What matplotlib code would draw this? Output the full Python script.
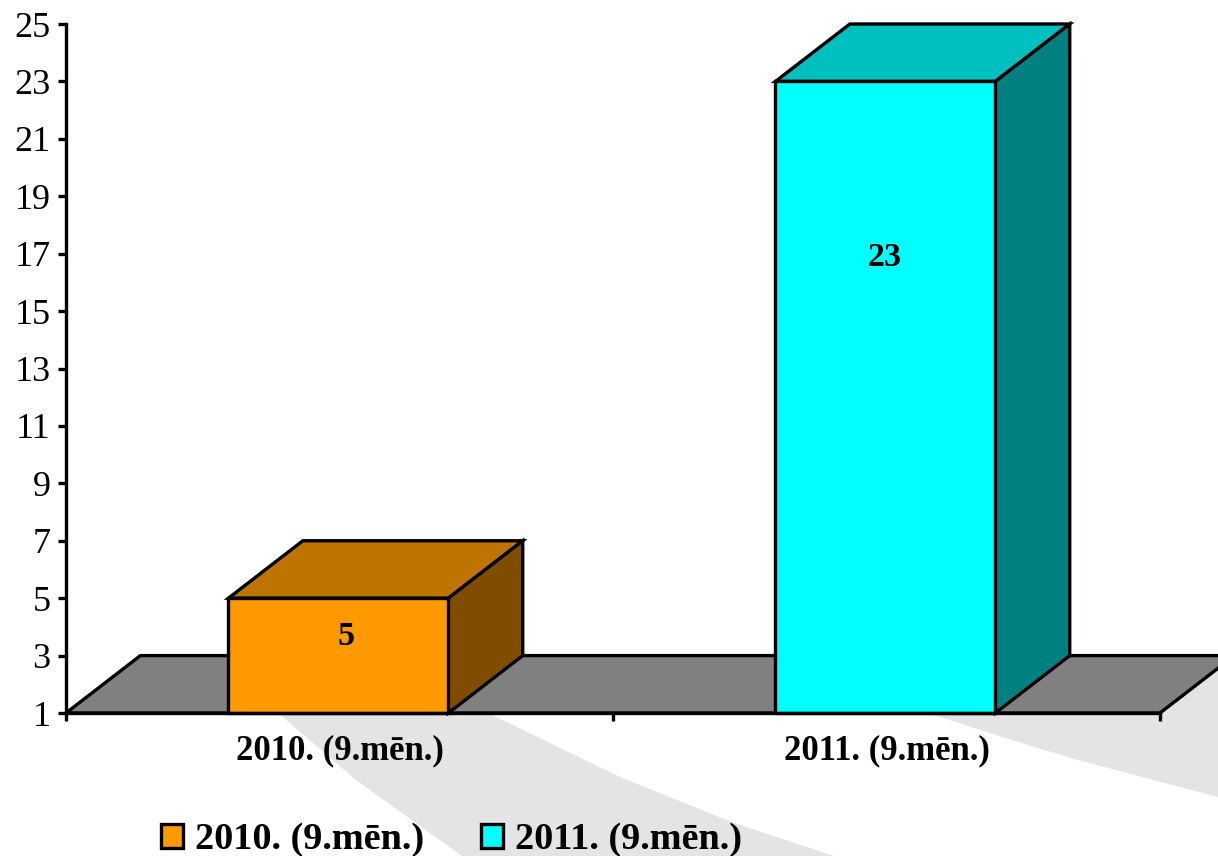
import matplotlib
matplotlib.use("Agg")
import matplotlib.pyplot as plt
from matplotlib.patches import Polygon, Patch

categories = ["2010. (9.mēn.)", "2011. (9.mēn.)"]
values = [5, 23]
face_colors = ["#FF9900", "#00FFFF"]
top_colors = ["#BF7300", "#00BFBF"]
side_colors = ["#804D00", "#008080"]
y_ticks = list(range(1, 26, 2))

W, H = 1218, 856
plt.rcParams["font.family"] = ["Liberation Serif", "DejaVu Serif"]
fig = plt.figure(figsize=(W / 100, H / 100), dpi=100, facecolor="white")
ax = fig.add_axes([66 / W, 1 - 713 / H, (1160 - 66) / W, (713 - 24) / H])
ax.patch.set_visible(False)
ax.set_xlim(-0.5, 1.5)
ax.set_ylim(1, 25)
LW = 2.4


def fig_poly(points):
    return Polygon([(x / W, 1 - y / H) for x, y in points], closed=True, facecolor="#E4E4E4",
                   edgecolor="none", transform=fig.transFigure, zorder=-5)


# Pale decorative swooshes behind the chart
fig.patches.append(fig_poly([(277, 712), (356, 780), (462, 856), (834, 856), (734, 823),
                             (620, 777), (486, 712)]))
fig.patches.append(fig_poly([(925, 712), (1002, 737), (1078, 760), (1218, 797), (1218, 660),
                             (1160, 712)]))

depth_x, depth_y = 0.136, 2.0
bar_width = 0.402

# Floor
ax.add_patch(Polygon([(-0.5, 1), (-0.5 + depth_x, 1 + depth_y), (1.5 + depth_x, 1 + depth_y), (1.5, 1)],
                     closed=True, facecolor="#808080", edgecolor="black", linewidth=LW,
                     clip_on=False, zorder=1, joinstyle="miter"))

# Bars with their top and side faces
centers = range(len(values))
for i, v in zip(centers, values):
    x0 = i - 0.002 - bar_width / 2
    x1 = x0 + bar_width
    ax.add_patch(Polygon([(x0, v), (x0 + depth_x, v + depth_y), (x1 + depth_x, v + depth_y), (x1, v)],
                         closed=True, facecolor=top_colors[i], edgecolor="black", linewidth=LW,
                         clip_on=False, zorder=2))
    ax.add_patch(Polygon([(x1, 1), (x1 + depth_x, 1 + depth_y), (x1 + depth_x, v + depth_y), (x1, v)],
                         closed=True, facecolor=side_colors[i], edgecolor="black", linewidth=LW,
                         clip_on=False, zorder=2))
    ax.bar(i - 0.002, v - 1, bottom=1, width=bar_width, color=face_colors[i], edgecolor="black",
           linewidth=LW, zorder=3, clip_on=False)

# Value labels
for i, v, dx, yy in zip(centers, values, [0.012, -0.004], [3.65, 16.87]):
    ax.text(i + dx, yy, str(v), ha="center", va="center", fontsize=24.5, fontweight="bold",
            color="black", zorder=5)

# Axes
for s in ("top", "right"):
    ax.spines[s].set_visible(False)
ax.spines["left"].set_linewidth(LW)
ax.spines["bottom"].set_linewidth(LW)
ax.spines["left"].set_zorder(4)
ax.spines["bottom"].set_zorder(4)
ax.set_yticks(y_ticks)
ax.set_yticklabels([str(t) for t in y_ticks])
ax.tick_params(axis="y", length=6, width=LW, labelsize=26, pad=5, direction="out")
ax.set_xticks([-0.5, 0.5, 1.5])
ax.set_xticklabels([])
ax.tick_params(axis="x", length=6, width=LW, direction="out")
for i, c in zip(centers, categories):
    ax.annotate(c, xy=(i, 1), xytext=(i * 1.0, -39), xycoords="data", textcoords=("data", "offset points"),
                ha="center", va="bottom", fontsize=25, fontweight="bold", annotation_clip=False)

handles = [Patch(facecolor=f, edgecolor="black", linewidth=LW) for f in face_colors]
ax.legend(handles, categories, ncol=2, loc="lower left",
          bbox_to_anchor=(142 / W, -0.024), bbox_transform=fig.transFigure, frameon=False,
          prop={"size": 27.5, "weight": "bold"}, handlelength=0.58, handleheight=0.62,
          handletextpad=0.3, columnspacing=1.5, borderpad=0, labelspacing=0)

fig.savefig("out.png", dpi=100, facecolor="white")
